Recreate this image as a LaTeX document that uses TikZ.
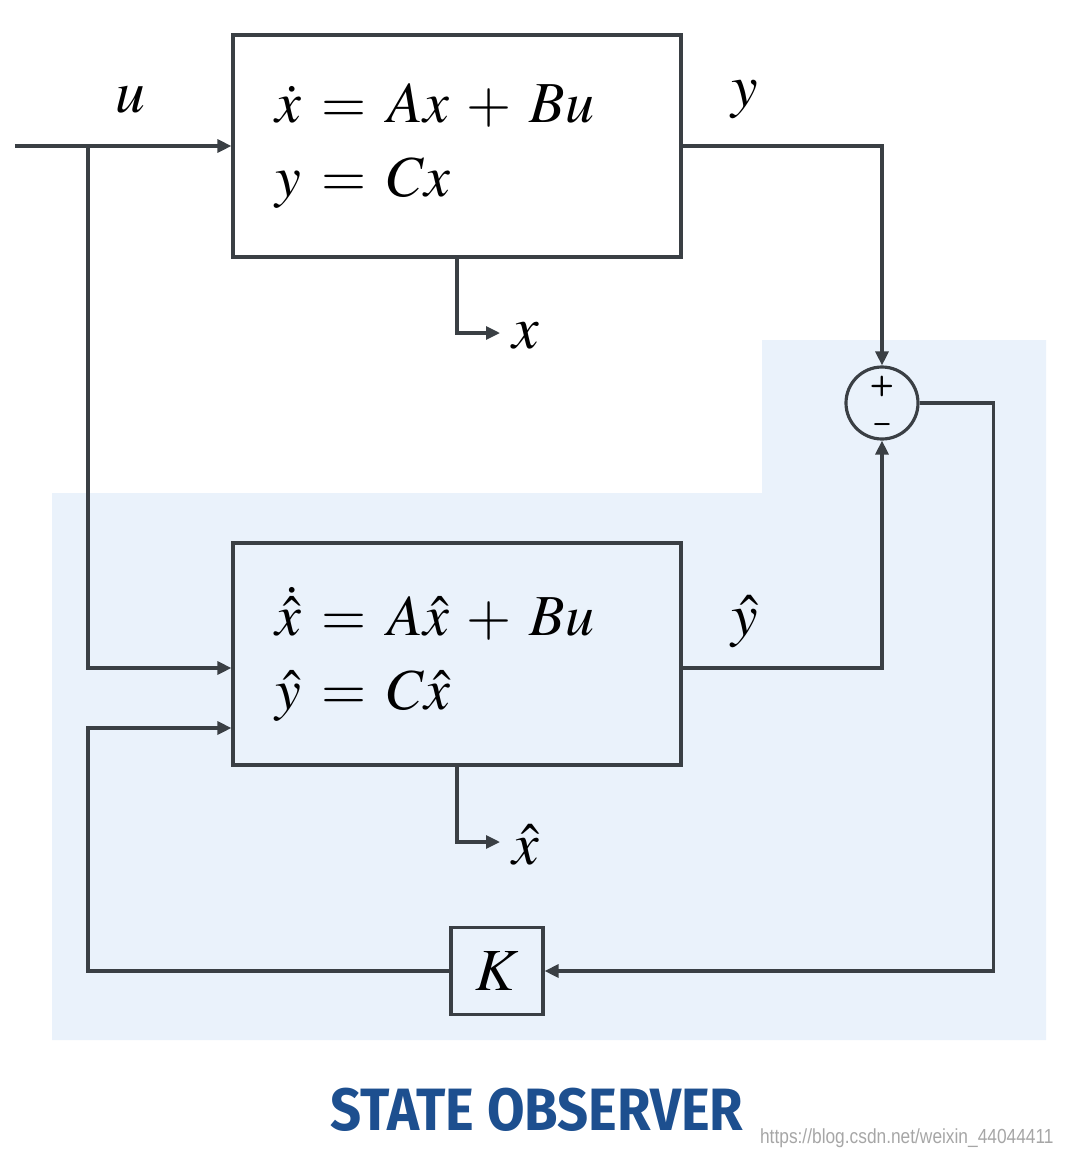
\documentclass[tikz,border=0pt]{standalone}
\usepackage{amsmath}
\usepackage{mathptmx}
\usepackage{fontspec}
\newfontfamily\titlefont[FakeStretch=0.91]{Fira Sans}
\newfontfamily\markfont[FakeStretch=0.85]{Liberation Sans}
\usetikzlibrary{arrows.meta}
\definecolor{wire}{HTML}{3A3F44}
\definecolor{obsbg}{HTML}{EAF2FB}
\definecolor{titleblue}{HTML}{1D4F8F}
\thickmuskip=6.5mu plus 3mu
\medmuskip=5.5mu plus 2mu

\tikzset{
  blk/.style={draw=wire, line width=0.9pt, minimum width=4.48cm, minimum height=2.22cm,
    text width=3.64cm, inner xsep=0.42cm, align=left, font=\fontsize{16.5}{21}\selectfont},
  sig/.style={draw=wire, line width=0.9pt, -{Triangle[length=0.14cm,width=0.13cm]}},
  lbl/.style={font=\fontsize{17}{20}\selectfont},
  sign/.style={font=\sffamily\bfseries\fontsize{8}{8}\selectfont, inner sep=0pt}
}

\begin{document}
\begin{tikzpicture}
  \useasboundingbox (0,0) rectangle (10.72,-11.57);
  % observer background
  \fill[obsbg] (0.52,-4.93) -- (7.62,-4.93) -- (7.62,-3.40) -- (10.46,-3.40)
    -- (10.46,-10.40) -- (0.52,-10.40) -- cycle;

  \node[blk] (plant) at (4.57,-1.46) {$\dot{x} = Ax + Bu$\\ $y = Cx$};
  \node[blk] (obs) at (4.57,-6.54) {$\dot{\hat{x}} = A\hat{x} + Bu$\\ $\hat{y} = C\hat{x}$};
  \node[circle, draw=wire, line width=0.9pt, minimum size=0.72cm] (sum) at (8.82,-4.03) {};
  \node[sign] (plus) at (8.82,-3.86) {+};
  \node[sign] (minus) at (8.82,-4.28) {--};
  \node[draw=wire, line width=0.9pt, minimum width=0.92cm, minimum height=0.87cm, lbl] (gain) at (4.97,-9.71) {$K$};

  \node[lbl] (ulab) at (1.30,-1.00) {$u$};
  \node[lbl] (ylab) at (7.45,-1.00) {$y$};
  \node[lbl] (yhlab) at (7.45,-6.22) {$\hat{y}$};
  \node[lbl, anchor=west] (xlab) at (5.00,-3.36) {$x$};
  \node[lbl, anchor=west] (xhlab) at (5.00,-8.45) {$\hat{x}$};

  \coordinate (uin) at (0.15,-1.46);
  \coordinate (split) at (0.88,-1.46);
  \coordinate (obsu) at ([yshift=-0.14cm]obs.west);
  \coordinate (obsfb) at ([yshift=-0.74cm]obs.west);
  \coordinate (obsy) at ([yshift=-0.14cm]obs.east);

  \draw[sig] (uin) -- (plant.west);
  \draw[sig] (split) |- (obsu);
  \draw[sig] (plant.east) -| (sum.north);
  \draw[sig] (obsy) -| (sum.south);
  \draw[sig] (sum.east) -- ++(0.74,0) |- (gain.east);
  \draw[sig] (gain.west) -- (gain.west -| split) |- (obsfb);
  \draw[sig] (plant.south) |- ([yshift=0.03cm]xlab.west);
  \draw[sig] (obs.south) |- ([yshift=0.03cm]xhlab.west);

  \node[text=titleblue, font=\titlefont\bfseries\fontsize{17}{20}\selectfont] (title) at (5.37,-11.10) {STATE OBSERVER};
  \node[text=black!35, anchor=east, font=\markfont\fontsize{5.8}{7}\selectfont] (mark) at (10.66,-11.38) {https://blog.csdn.net/weixin\_44044411};
\end{tikzpicture}
\end{document}
